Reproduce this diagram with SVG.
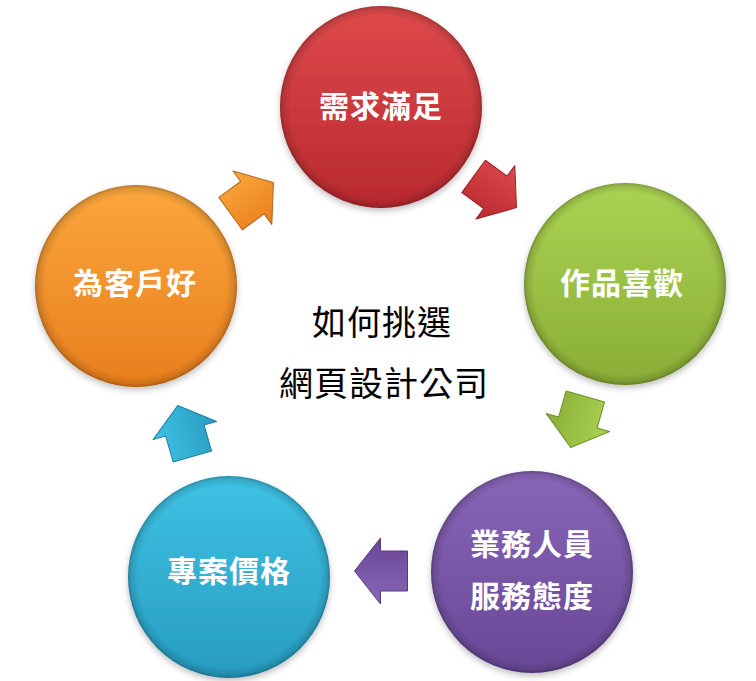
<svg xmlns="http://www.w3.org/2000/svg" width="756" height="681" viewBox="0 0 756 681">
  <defs>
    <style>
      .lbl { font-family: "Noto Sans CJK TC", "Noto Sans CJK SC", sans-serif; font-size: 30px; font-weight: bold; fill: #ffffff; text-anchor: middle; letter-spacing: 1px; }
      .ctr { font-family: "Noto Sans CJK TC", "Noto Sans CJK SC", sans-serif; font-size: 34px; font-weight: normal; fill: #000000; text-anchor: middle; letter-spacing: 1px; }
      .rim { fill: url(#rim); }
      .arr { stroke-width: 1; stroke-linejoin: round; }
    </style>
    <filter id="sh" x="-20%" y="-20%" width="140%" height="150%">
      <feDropShadow dx="0" dy="3" stdDeviation="3" flood-color="#000" flood-opacity="0.25"/>
    </filter>
    <radialGradient id="rim" cx="0.5" cy="0.5" r="0.5">
      <stop offset="0.9" stop-color="#000" stop-opacity="0"/>
      <stop offset="0.97" stop-color="#000" stop-opacity="0.12"/>
      <stop offset="1" stop-color="#000" stop-opacity="0.28"/>
    </radialGradient>
    <linearGradient id="gRed" x1="0" y1="0" x2="0" y2="1">
      <stop offset="0" stop-color="#de4a4c"/>
      <stop offset="1" stop-color="#b8292e"/>
    </linearGradient>
    <linearGradient id="gGreen" x1="0" y1="0" x2="0" y2="1">
      <stop offset="0" stop-color="#abd352"/>
      <stop offset="1" stop-color="#89ad36"/>
    </linearGradient>
    <linearGradient id="gPurple" x1="0" y1="0" x2="0" y2="1">
      <stop offset="0" stop-color="#8966b8"/>
      <stop offset="1" stop-color="#684795"/>
    </linearGradient>
    <linearGradient id="gBlue" x1="0" y1="0" x2="0" y2="1">
      <stop offset="0" stop-color="#3fc2e4"/>
      <stop offset="1" stop-color="#279cc0"/>
    </linearGradient>
    <linearGradient id="gOrange" x1="0" y1="0" x2="0" y2="1">
      <stop offset="0" stop-color="#fba73d"/>
      <stop offset="1" stop-color="#e87e1d"/>
    </linearGradient>
    <path id="arrow" d="M-26.5,-20 L0.5,-20 L0.5,-33 L26.5,0 L0.5,33 L0.5,20 L-26.5,20 Z"/>
  </defs>

  <rect width="756" height="681" fill="#ffffff"/>

  <g id="connectors">
    <use href="#arrow" class="arr" fill="url(#gOrange)" stroke="#b8641a" transform="translate(252,198) rotate(-36)"/>
    <use href="#arrow" class="arr" fill="url(#gRed)" stroke="#9a2226" transform="translate(495,192) rotate(36)"/>
    <use href="#arrow" class="arr" fill="url(#gGreen)" stroke="#6f8f2a" transform="translate(578,422) rotate(106)"/>
    <use href="#arrow" class="arr" fill="url(#gPurple)" stroke="#553a7c" transform="translate(381,571) rotate(180)"/>
    <use href="#arrow" class="arr" fill="url(#gBlue)" stroke="#1f7f9e" transform="translate(185,431) rotate(-106)"/>
  </g>

  <g id="node-need">
    <circle cx="381" cy="107" r="101" fill="url(#gRed)" filter="url(#sh)"/>
    <circle cx="381" cy="107" r="101" class="rim"/>
    <text x="381" y="117" class="lbl">需求滿足</text>
  </g>

  <g id="node-works">
    <circle cx="625" cy="284" r="101" fill="url(#gGreen)" filter="url(#sh)"/>
    <circle cx="625" cy="284" r="101" class="rim"/>
    <text x="622" y="294" class="lbl">作品喜歡</text>
  </g>

  <g id="node-service">
    <circle cx="532" cy="572" r="101" fill="url(#gPurple)" filter="url(#sh)"/>
    <circle cx="532" cy="572" r="101" class="rim"/>
    <text x="532" y="555" class="lbl">業務人員</text>
    <text x="532" y="607" class="lbl">服務態度</text>
  </g>

  <g id="node-price">
    <circle cx="229" cy="577" r="101" fill="url(#gBlue)" filter="url(#sh)"/>
    <circle cx="229" cy="577" r="101" class="rim"/>
    <text x="229" y="582" class="lbl">專案價格</text>
  </g>

  <g id="node-client">
    <circle cx="136" cy="286" r="101" fill="url(#gOrange)" filter="url(#sh)"/>
    <circle cx="136" cy="286" r="101" class="rim"/>
    <text x="135" y="294" class="lbl">為客戶好</text>
  </g>

  <g id="center-title">
    <text x="382" y="335" class="ctr">如何挑選</text>
    <text x="384" y="396" class="ctr">網頁設計公司</text>
  </g>
</svg>
